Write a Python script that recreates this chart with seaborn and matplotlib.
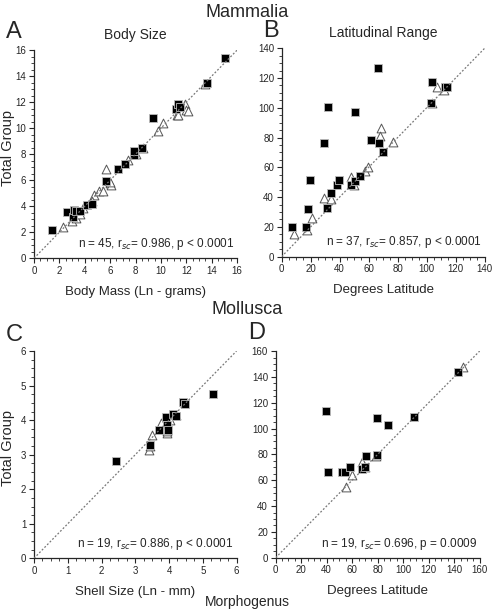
import matplotlib
matplotlib.use("Agg")
import matplotlib.pyplot as plt
import matplotlib.ticker as ticker
import pandas as pd
import seaborn as sns

sns.set_style("ticks")
plt.rcParams['font.family'] = ['Liberation Sans', 'DejaVu Sans']

# Panel A - body size (Ln grams): morphogenus x, total group y
a_sq_x = [1.45, 2.6, 3.1, 3.12, 3.35, 3.6, 4.15, 4.55, 5.67, 6.6, 7.2, 7.9, 7.9, 8.5, 9.4, 11.23, 11.36, 11.5, 13.65, 15.07]
a_sq_y = [2.2, 3.52, 3.19, 3.7, 3.6, 3.65, 4.11, 4.17, 5.96, 6.9, 7.25, 7.97, 8.28, 8.48, 10.75, 11.5, 11.83, 11.6, 13.47, 15.4]
a_tr_x = [2.3, 2.97, 3.3, 3.6, 4.75, 5.14, 5.46, 5.67, 5.98, 6.1, 7.4, 8.6, 9.79, 10.18, 11.3, 11.36, 11.6, 11.9, 12.0, 12.1, 13.5, 3.9, 6.0, 4.6, 8.0]
a_tr_y = [2.37, 2.88, 3.1, 3.44, 4.88, 5.14, 5.14, 6.9, 5.76, 5.66, 7.56, 8.48, 9.77, 10.39, 10.98, 10.98, 11.67, 11.88, 11.37, 11.36, 13.37, 3.9, 5.9, 4.4, 8.0]

# Panel B - latitudinal range (degrees)
b_sq_x = [6.9, 16.6, 18.4, 19.5, 31.5, 33.8, 37.9, 39.5, 47.6, 50.3, 54.0, 29.2, 31.9, 50.3, 61.8, 67.1, 70.1, 66.4, 103.9, 103.2, 112.6, 114.3]
b_sq_y = [19.7, 19.7, 31.8, 51.7, 32.5, 43.0, 48.2, 51.5, 48.2, 50.9, 54.4, 76.6, 100.4, 97.0, 78.4, 76.6, 70.6, 126.8, 117.4, 103.5, 113.8, 114.2]
b_tr_x = [8.5, 17.2, 21.1, 29.2, 33.8, 47.6, 57.2, 59.8, 68.3, 67.8, 76.8, 107.4, 50.0, 112.0, 104.0]
b_tr_y = [15.2, 17.9, 25.8, 39.2, 38.5, 53.3, 57.8, 60.5, 86.2, 81.1, 77.3, 113.8, 48.0, 112.0, 103.0]

# Panel C - shell size (Ln mm)
c_sq_x = [2.43, 3.45, 3.70, 3.90, 3.93, 3.96, 4.12, 4.20, 4.42, 4.47, 5.29]
c_sq_y = [2.81, 3.28, 3.71, 4.08, 3.86, 3.71, 4.19, 4.11, 4.52, 4.48, 4.76]
c_tr_x = [3.41, 3.50, 3.76, 3.93, 4.04, 3.45, 3.95, 4.2]
c_tr_y = [3.13, 3.57, 3.91, 3.62, 4.00, 3.25, 3.7, 4.15]

# Panel D - latitudinal range (degrees)
d_sq_x = [39.5, 41.3, 51.8, 54.1, 58.3, 67.5, 70.0, 70.6, 79.2, 79.2, 88.3, 108.5, 143.2]
d_sq_y = [113.8, 66.6, 66.6, 66.6, 70.0, 68.4, 70.5, 78.7, 107.9, 79.5, 102.7, 109.1, 144.0]
d_tr_x = [55.1, 59.6, 67.5, 70.0, 146.6, 79.0]
d_tr_y = [55.0, 64.0, 74.3, 70.0, 147.4, 79.0]

panels = [
    ("A", "Body Size", "Body Mass (Ln - grams)", 16, 2, [0.0688, 0.578, 0.411, 0.340],
     a_sq_x, a_sq_y, a_tr_x, a_tr_y, "n = 45, r$_{sc}$= 0.986, p < 0.0001"),
    ("B", "Latitudinal Range", "Degrees Latitude", 140, 20, [0.570, 0.5806, 0.411, 0.3405],
     b_sq_x, b_sq_y, b_tr_x, b_tr_y, "n = 37, r$_{sc}$= 0.857, p < 0.0001"),
    ("C", "", "Shell Size (Ln - mm)", 6, 1, [0.0688, 0.0877, 0.410, 0.3387],
     c_sq_x, c_sq_y, c_tr_x, c_tr_y, "n = 19, r$_{sc}$= 0.886, p < 0.0001"),
    ("D", "", "Degrees Latitude", 160, 20, [0.558, 0.0887, 0.413, 0.3377],
     d_sq_x, d_sq_y, d_tr_x, d_tr_y, "n = 19, r$_{sc}$= 0.696, p = 0.0009"),
]

fig = plt.figure(figsize=(4.94, 6.12), dpi=100)

for letter, title, xlabel, vmax, step, rect, sx, sy, tx, ty, note in panels:
    ax = fig.add_axes(rect)
    tri = pd.DataFrame({"x": tx, "y": ty})
    sq = pd.DataFrame({"x": sx, "y": sy})
    sns.scatterplot(data=tri, x="x", y="y", ax=ax, marker="^", s=40,
                    facecolor="white", edgecolor="#555555", linewidth=0.7, zorder=2)
    sns.scatterplot(data=sq, x="x", y="y", ax=ax, marker="s", s=32,
                    color="black", edgecolor="#bbbbbb", linewidth=0.6, zorder=3)
    ax.plot([0, vmax], [0, vmax], ls=(0, (1.5, 1.5)), color="#777777", lw=0.9, zorder=4)
    ax.set_xlim(0, vmax)
    ax.set_ylim(0, vmax)
    ax.xaxis.set_major_locator(ticker.MultipleLocator(step))
    ax.yaxis.set_major_locator(ticker.MultipleLocator(step))
    ax.xaxis.set_minor_locator(ticker.AutoMinorLocator(4))
    ax.yaxis.set_minor_locator(ticker.AutoMinorLocator(4))
    ax.tick_params(which="major", length=3.5, width=0.8, labelsize=7, pad=2)
    ax.tick_params(which="minor", length=2, width=0.6)
    for s in ["left", "bottom"]:
        ax.spines[s].set_linewidth(0.9)
    sns.despine(ax=ax)
    ax.set_xlabel(xlabel, fontsize=9.5, labelpad=7)
    if letter in "AC":
        ax.set_ylabel("Total Group", fontsize=10.5)
        ax.yaxis.set_label_coords(-0.092, 0.53)
    else:
        ax.set_ylabel("")
    ax.text(0.985, 0.03, note, transform=ax.transAxes, ha="right", va="bottom", fontsize=8.5)
    if title:
        ax.set_title(title, fontsize=10, pad=8)

fig.text(0.5, 0.98, "Mammalia", ha="center", va="center", fontsize=13)
fig.text(0.5, 0.4935, "Mollusca", ha="center", va="center", fontsize=13)
fig.text(0.5, 0.016, "Morphogenus", ha="center", va="center", fontsize=10)
fig.text(0.012, 0.947, "A", ha="left", va="center", fontsize=17)
fig.text(0.532, 0.949, "B", ha="left", va="center", fontsize=17)
fig.text(0.012, 0.453, "C", ha="left", va="center", fontsize=17)
fig.text(0.502, 0.456, "D", ha="left", va="center", fontsize=17)

fig.savefig("out.png", dpi=100)
